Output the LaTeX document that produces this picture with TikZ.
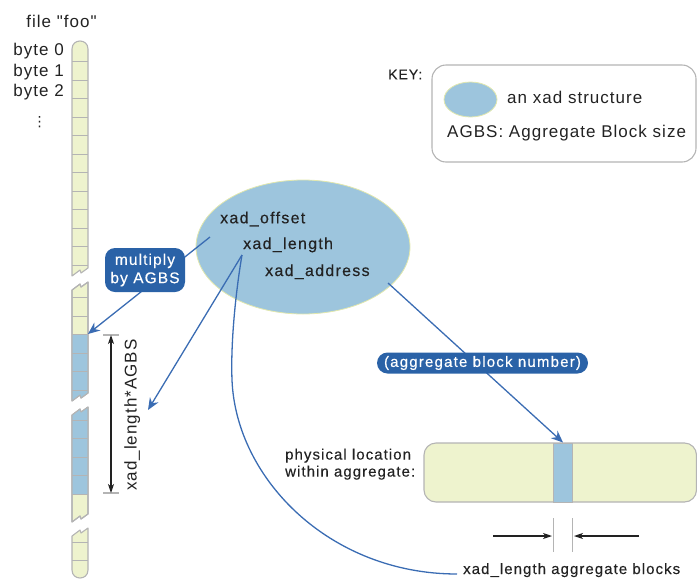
\documentclass[tikz,border=0pt]{standalone}
\usepackage{fontspec}
\setmainfont{Liberation Sans}
\newfontfamily\spacedsans[LetterSpace=6]{Liberation Sans}
\newfontfamily\heavysans[LetterSpace=7,FakeBold=0.3]{Liberation Sans}
\newfontfamily\widesans[LetterSpace=8,FakeBold=0.3]{Liberation Sans}
\newfontfamily\symbolsans{DejaVu Sans}
\usetikzlibrary{arrows.meta,shapes.geometric}

\definecolor{ink}{HTML}{222222}
\definecolor{pale}{HTML}{EEF3CE}
\definecolor{edgegray}{HTML}{B4B4B4}
\definecolor{xadblue}{HTML}{9DC5DD}
\definecolor{tagblue}{HTML}{2A62A7}
\definecolor{linkblue}{HTML}{3A6CB3}
\definecolor{rim}{HTML}{E2E8AE}

\tikzset{
  txt/.style={text=ink, inner sep=0pt},
  keyfont/.style={font=\spacedsans\fontsize{17}{20}\selectfont},
  labfont/.style={font=\heavysans\fontsize{15}{17}\selectfont},
  xadfont/.style={font=\widesans\fontsize{16}{19}\selectfont},
  barpart/.style={fill=pale, draw=edgegray, line width=1.1pt, line join=round},
  celldiv/.style={draw=edgegray, line width=1pt},
  blueline/.style={draw=linkblue, line width=1.3pt},
  bluetip/.style={-{Stealth[length=12pt,width=10pt,inset=4pt]}},
  dimline/.style={draw=ink, line width=1.1pt},
  dimtip/.style={-{Stealth[length=9pt,width=6pt,inset=2.5pt]}},
  tag/.style={fill=tagblue, text=white, inner sep=0pt, align=center,
    font=\heavysans\fontsize{15.5}{18.3}\selectfont},
  xadshape/.style={ellipse, fill=xadblue, draw=rim, line width=0.8pt, inner sep=0pt},
}

\begin{document}
\begin{tikzpicture}[x=1pt, y=-1pt]
\useasboundingbox (0,0) rectangle (697,579);

% ---- file bar, in four torn pieces ----
\path[barpart] (72,276) -- (72,49) .. controls (72,38.33) and (88,38.33) .. (88,49)
  -- (88,268) -- (81,273) -- (80,270) -- cycle;
\foreach \y in {61.5,80,98.5,117,135.5,154,172.5,191,209.5,228,246.5,265}
  \draw[celldiv] (72,\y) -- (88,\y);

\path[barpart] (72,290) -- (80,284) -- (81,287) -- (88,282) -- (88,393)
  -- (81,398) -- (80,395) -- (72,401) -- cycle;
\begin{scope}
  \clip (72,290) -- (80,284) -- (81,287) -- (88,282) -- (88,393)
    -- (81,398) -- (80,395) -- (72,401) -- cycle;
  \fill[xadblue] (70,334.5) rectangle (90,405);
\end{scope}
\draw[edgegray, line width=1.1pt, line join=round] (72,290) -- (80,284) -- (81,287) -- (88,282) -- (88,393)
  -- (81,398) -- (80,395) -- (72,401) -- cycle;
\foreach \y in {297.5,316,334.5,353,371.5,390}
  \draw[celldiv] (72,\y) -- (88,\y);

\path[barpart] (72,415) -- (80,409) -- (81,412) -- (88,407) -- (88,514)
  -- (81,519) -- (80,516) -- (72,522) -- cycle;
\begin{scope}
  \clip (72,415) -- (80,409) -- (81,412) -- (88,407) -- (88,514)
    -- (81,519) -- (80,516) -- (72,522) -- cycle;
  \fill[xadblue] (70,400) rectangle (90,494);
\end{scope}
\draw[edgegray, line width=1.1pt, line join=round] (72,415) -- (80,409) -- (81,412) -- (88,407) -- (88,514)
  -- (81,519) -- (80,516) -- (72,522) -- cycle;
\foreach \y in {420,438.5,457,475.5,494}
  \draw[celldiv] (72,\y) -- (88,\y);

\path[barpart] (72,536) -- (80,530) -- (81,533) -- (88,528) -- (88,570)
  .. controls (88,580.67) and (72,580.67) .. (72,570) -- cycle;
\foreach \y in {542,560.5}
  \draw[celldiv] (72,\y) -- (88,\y);

% ---- labels of the file ----
\node[txt, font=\spacedsans\fontsize{17}{20}\selectfont, anchor=base] (fname) at (61.5,27) {file "foo"};
\node[txt, keyfont, anchor=base east] (b0) at (64,55) {byte 0};
\node[txt, keyfont, anchor=base east] (b1) at (64,76) {byte 1};
\node[txt, keyfont, anchor=base east] (b2) at (64,96.5) {byte 2};
\node[txt, font=\symbolsans\fontsize{14}{16}\selectfont] (more) at (39.5,122.5) {⋮};

% ---- key ----
\node[txt, font=\heavysans\fontsize{14}{16}\selectfont, anchor=base west] (keyhead) at (388,79.3) {KEY:};
\node[draw=edgegray, line width=1.1pt, rounded corners=14pt, minimum width=264pt,
  minimum height=97pt, inner sep=0pt] (keybox) at (564,113.5) {};
\node[xadshape, minimum width=53pt, minimum height=35pt] (keyxad) at (470.5,99.5) {};
\node[txt, keyfont, anchor=base west] (keyxadtext) at (507,103.3) {an xad structure};
\node[txt, keyfont, anchor=base west] (keyagbs) at (447,137.3) {AGBS: Aggregate Block size};

% ---- the xad structure ----
\node[xadshape, minimum width=214pt, minimum height=134pt] (xad) at (303,247) {};
\node[txt, xadfont, anchor=base west] (offset) at (220,223.3) {xad\_offset};
\node[txt, xadfont, anchor=base west] (length) at (243,249) {xad\_length};
\node[txt, xadfont, anchor=base west] (address) at (265,276) {xad\_address};

\coordinate (offpt) at (210,237);
\coordinate (lenpt) at (242,255);
\coordinate (addrpt) at (388,283);
\coordinate (tipA) at (88,334);
\coordinate (tipB) at (148,410);

% ---- aggregate ----
\node[txt, labfont, align=left, anchor=north west] (phys) at (285,448.5)
  {physical location\\within aggregate:};
\node[barpart, rounded corners=12pt, minimum width=272.5pt, minimum height=59pt,
  inner sep=0pt] (agg) at (560.25,472.5) {};
\node[fill=xadblue, draw=edgegray, line width=1pt, minimum width=19pt,
  minimum height=59pt, inner sep=0pt] (blk) at (563,472.5) {};

% ---- connectors from the xad fields ----
\draw[blueline, bluetip] (offpt) -- (tipA);
\node[tag, minimum width=80pt, minimum height=44pt, rounded corners=10pt] (mul)
  at (145,270) {multiply\\by AGBS};

\draw[blueline, bluetip] (lenpt) -- (tipB);

\node[txt, labfont, anchor=base west, inner sep=6pt] (blocks) at (457,574)
  {xad\_length aggregate blocks};
\draw[blueline] (lenpt) .. controls (236,290) and (230.5,342) .. (232,380)
  .. controls (236,479) and (330,574) .. (blocks.base west);

\draw[blueline, bluetip] (addrpt) -- (blk.north);
\node[tag, minimum width=211pt, minimum height=21pt, rounded corners=10.5pt,
  font=\widesans\fontsize{15}{17}\selectfont] (abn) at (482.5,363)
  {(aggregate block number)};

% ---- byte span of the extent ----
\coordinate (spantop) at (111,335);
\coordinate (spanbot) at (111,493);
\draw[edgegray, line width=1.1pt] (103,335) -- (119,335) (103,493) -- (119,493);
\draw[dimline, {Stealth[length=9pt,width=6pt,inset=2.5pt]}-{Stealth[length=9pt,width=6pt,inset=2.5pt]}]
  (spantop) -- (spanbot);
\node[txt, font=\spacedsans\fontsize{17}{20}\selectfont, rotate=90, anchor=base west]
  (spanlabel) at (136.5,491) {xad\_length*AGBS};

% ---- block width marks ----
\draw[edgegray, line width=1.1pt] (553.5,518) -- (553.5,552) (572.5,518) -- (572.5,552);
\coordinate (wl) at (493,536);
\coordinate (wlend) at (552,536);
\coordinate (wr) at (639,536);
\coordinate (wrend) at (574,536);
\draw[dimline, dimtip] (wl) -- (wlend);
\draw[dimline, dimtip] (wr) -- (wrend);
\end{tikzpicture}
\end{document}
